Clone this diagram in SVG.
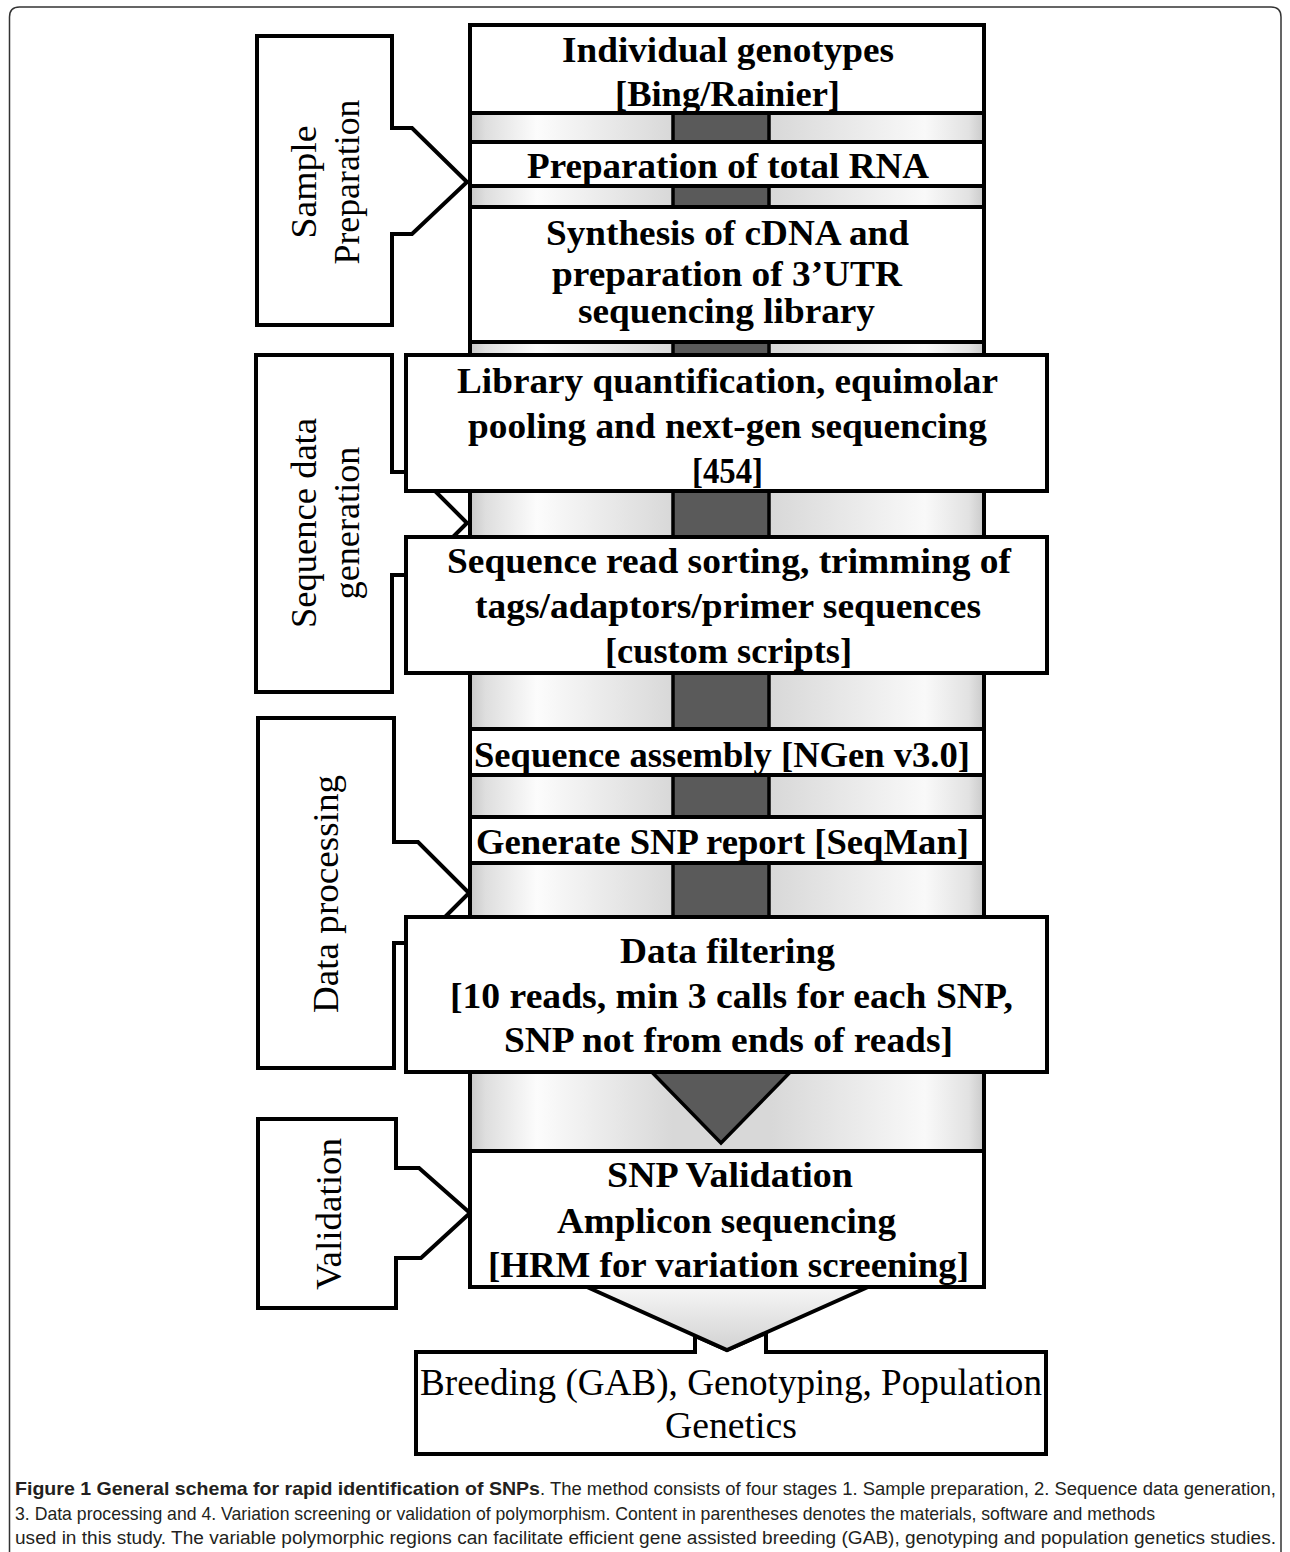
<svg xmlns="http://www.w3.org/2000/svg" width="1290" height="1552" viewBox="0 0 1290 1552">
<defs>
  <linearGradient id="cyl" gradientUnits="userSpaceOnUse" x1="470" y1="0" x2="984" y2="0">
    <stop offset="0" stop-color="#c8c8c8"/>
    <stop offset="0.03" stop-color="#dedede"/>
    <stop offset="0.13" stop-color="#fcfcfc"/>
    <stop offset="0.395" stop-color="#d8d8d8"/>
    <stop offset="0.585" stop-color="#d8d8d8"/>
    <stop offset="0.885" stop-color="#f9f9f9"/>
    <stop offset="0.97" stop-color="#e2e2e2"/>
    <stop offset="1" stop-color="#cacaca"/>
  </linearGradient>
  <linearGradient id="chev" x1="0" y1="0" x2="0" y2="1">
    <stop offset="0" stop-color="#f6f6f6"/>
    <stop offset="1" stop-color="#d2d2d2"/>
  </linearGradient>
</defs>
<style>
  .box{fill:#fff;stroke:#000;stroke-width:4}
  .co{fill:#fff;stroke:#000;stroke-width:4;stroke-linejoin:miter}
  .b{font-family:"Liberation Serif","Times New Roman",serif;font-weight:bold;font-size:35px;fill:#000}
  .r{font-family:"Liberation Serif","Times New Roman",serif;font-size:36px;fill:#000}
  .rb{font-family:"Liberation Serif","Times New Roman",serif;font-size:38px;fill:#000}
  .cap{font-family:"Liberation Sans",Arial,sans-serif;font-size:19px;fill:#231f20}
  .capb{font-family:"Liberation Sans",Arial,sans-serif;font-size:19px;font-weight:bold;fill:#231f20}
  .caps{font-size:18px}
</style>
<rect x="0" y="0" width="1290" height="1552" fill="#fff"/>
<g id="frame">
  <path d="M9.5,1552 V17 Q9.5,7 19.5,7 H1271 Q1281,7 1281,17 V1552" fill="none" stroke="#333" stroke-width="1.5"/>
</g>
<g id="cylinder">
  <rect x="470" y="25" width="514" height="1262" fill="url(#cyl)" stroke="#000" stroke-width="4"/>
</g>
<g id="output">
  <path class="co" d="M416,1352 H695 V1336 L727,1350 L766,1333 V1352 H1046 V1454 H416 Z"/>
  <text class="rb" x="420" y="1395" textLength="622" lengthAdjust="spacingAndGlyphs">Breeding (GAB), Genotyping, Population</text>
  <text class="rb" x="665" y="1438" textLength="132" lengthAdjust="spacingAndGlyphs">Genetics</text>
</g>
<g id="stage-sample-preparation">
  <path class="co" d="M257,36 H392 V128 H412 L467,182 L412,234 H392 V325 H257 Z"/>
  <text class="r" transform="translate(316,182) rotate(-90)" text-anchor="middle" textLength="113" lengthAdjust="spacingAndGlyphs">Sample</text>
  <text class="r" transform="translate(359,182) rotate(-90)" text-anchor="middle" textLength="165" lengthAdjust="spacingAndGlyphs">Preparation</text>
</g>
<g id="stage-sequence-data-generation">
  <path class="co" d="M256,355 H392 V472 H416 L467,523 L415,575 H392 V692 H256 Z"/>
  <text class="r" transform="translate(316,523) rotate(-90)" text-anchor="middle" textLength="210" lengthAdjust="spacingAndGlyphs">Sequence data</text>
  <text class="r" transform="translate(359,523) rotate(-90)" text-anchor="middle" textLength="153" lengthAdjust="spacingAndGlyphs">generation</text>
</g>
<g id="stage-data-processing">
  <path class="co" d="M258,718 H394 V842 H418 L469,893 L419,943 H394 V1068 H258 Z"/>
  <text class="r" transform="translate(338,894) rotate(-90)" text-anchor="middle" textLength="238" lengthAdjust="spacingAndGlyphs">Data processing</text>
</g>
<g id="stage-validation">
  <path class="co" d="M258,1119 H396 V1168 H419 L470,1213 L421,1258 H396 V1308 H258 Z"/>
  <text class="r" transform="translate(341,1214) rotate(-90)" text-anchor="middle" textLength="152" lengthAdjust="spacingAndGlyphs">Validation</text>
</g>
<g id="connectors">
  <rect x="673" y="110" width="96" height="960" fill="#5a5a5a" stroke="#000" stroke-width="3.5"/>
  <polygon points="640,1060 802,1060 721,1143" fill="#5a5a5a" stroke="#000" stroke-width="3.5" stroke-linejoin="miter"/>
  <path d="M587,1287 L727,1350 L868,1287" fill="url(#chev)" stroke="#000" stroke-width="4" stroke-linejoin="miter"/>
</g>
<g id="step-individual-genotypes">
  <rect class="box" x="470" y="25" width="514" height="88"/>
  <text class="b" x="562" y="62" textLength="332" lengthAdjust="spacingAndGlyphs">Individual genotypes</text>
  <text class="b" x="615" y="106" textLength="225" lengthAdjust="spacingAndGlyphs">[Bing/Rainier]</text>
</g>
<g id="step-total-rna">
  <rect class="box" x="470" y="142" width="514" height="44"/>
  <text class="b" x="527" y="178" textLength="402" lengthAdjust="spacingAndGlyphs">Preparation of total RNA</text>
</g>
<g id="step-cdna-library">
  <rect class="box" x="470" y="207" width="514" height="135"/>
  <text class="b" x="546" y="245" textLength="363" lengthAdjust="spacingAndGlyphs">Synthesis of cDNA and</text>
  <text class="b" x="552" y="286" textLength="350" lengthAdjust="spacingAndGlyphs">preparation of 3’UTR</text>
  <text class="b" x="578" y="323" textLength="297" lengthAdjust="spacingAndGlyphs">sequencing library</text>
</g>
<g id="step-library-quantification">
  <rect class="box" x="406" y="355" width="641" height="136"/>
  <text class="b" x="457" y="393" textLength="541" lengthAdjust="spacingAndGlyphs">Library quantification, equimolar</text>
  <text class="b" x="468" y="438" textLength="519" lengthAdjust="spacingAndGlyphs">pooling and next-gen sequencing</text>
  <text class="b" x="692" y="483" textLength="71" lengthAdjust="spacingAndGlyphs">[454]</text>
</g>
<g id="step-read-sorting">
  <rect class="box" x="406" y="537" width="641" height="136"/>
  <text class="b" x="447" y="573" textLength="564" lengthAdjust="spacingAndGlyphs">Sequence read sorting, trimming of</text>
  <text class="b" x="475" y="618" textLength="506" lengthAdjust="spacingAndGlyphs">tags/adaptors/primer sequences</text>
  <text class="b" x="605" y="663" textLength="247" lengthAdjust="spacingAndGlyphs">[custom scripts]</text>
</g>
<g id="step-sequence-assembly">
  <rect class="box" x="470" y="729" width="514" height="46"/>
  <text class="b" x="474" y="767" textLength="496" lengthAdjust="spacingAndGlyphs">Sequence assembly [NGen v3.0]</text>
</g>
<g id="step-snp-report">
  <rect class="box" x="470" y="817" width="514" height="46"/>
  <text class="b" x="476" y="854" textLength="493" lengthAdjust="spacingAndGlyphs">Generate SNP report [SeqMan]</text>
</g>
<g id="step-data-filtering">
  <rect class="box" x="406" y="917" width="641" height="155"/>
  <text class="b" x="620" y="963" textLength="215" lengthAdjust="spacingAndGlyphs">Data filtering</text>
  <text class="b" x="450" y="1008" textLength="563" lengthAdjust="spacingAndGlyphs">[10 reads, min 3 calls for each SNP,</text>
  <text class="b" x="504" y="1052" textLength="449" lengthAdjust="spacingAndGlyphs">SNP not from ends of reads]</text>
</g>
<g id="step-snp-validation">
  <rect class="box" x="470" y="1151" width="514" height="136"/>
  <text class="b" x="607" y="1187" textLength="246" lengthAdjust="spacingAndGlyphs">SNP Validation</text>
  <text class="b" x="557" y="1233" textLength="339" lengthAdjust="spacingAndGlyphs">Amplicon sequencing</text>
  <text class="b" x="488" y="1277" textLength="481" lengthAdjust="spacingAndGlyphs">[HRM for variation screening]</text>
</g>
<g id="caption">
  <text class="capb" x="15" y="1495" textLength="525" lengthAdjust="spacingAndGlyphs">Figure 1 General schema for rapid identification of SNPs</text>
  <text class="cap caps" x="540" y="1495" textLength="736" lengthAdjust="spacingAndGlyphs">. The method consists of four stages 1. Sample preparation, 2. Sequence data generation,</text>
  <text class="cap" x="15" y="1519.5" textLength="1140" lengthAdjust="spacingAndGlyphs">3. Data processing and 4. Variation screening or validation of polymorphism. Content in parentheses denotes the materials, software and methods</text>
  <text class="cap caps" x="15" y="1544" textLength="1261" lengthAdjust="spacingAndGlyphs">used in this study. The variable polymorphic regions can facilitate efficient gene assisted breeding (GAB), genotyping and population genetics studies.</text>
</g>
</svg>
